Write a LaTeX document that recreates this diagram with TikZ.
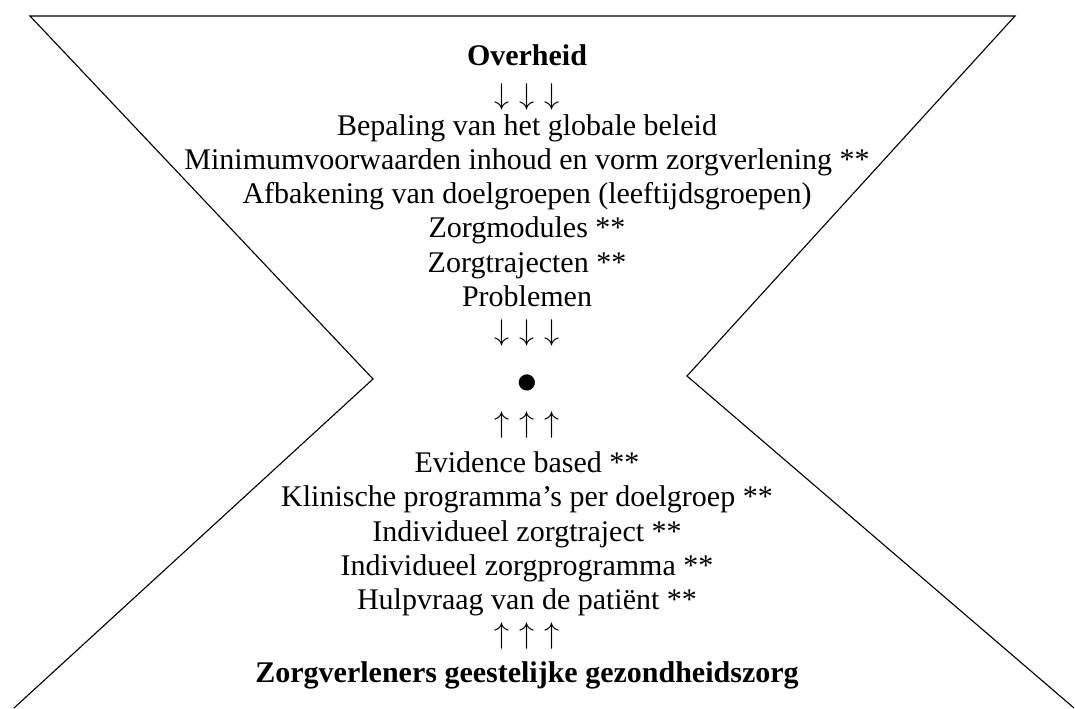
\documentclass[tikz,border=0pt]{standalone}
\usepackage{fontspec}
\setmainfont{Liberation Serif}
\usepackage{tikz}

\newcommand{\driepijl}[1]{\makebox[10pt]{$#1$}\makebox[10pt]{$#1$}\makebox[10pt]{$#1$}}

\begin{document}
\begin{tikzpicture}[x=0.4pt,y=-0.4pt,
  regel/.style={anchor=base,
                inner sep=0pt,
                font=\fontsize{12}{13.8}\selectfont},
  kop/.style={regel,
              font=\fontsize{12}{13.8}\selectfont\bfseries}]
\useasboundingbox (0,0) rectangle (1075,708);
\coordinate (tl) at (30,16);
\coordinate (tr) at (1015,16);
\coordinate (la) at (373,379);
\coordinate (ra) at (687,376);
\coordinate (bl) at (14,708);
\coordinate (br) at (1074,708);
\draw [line width=0.45pt] (bl) -- (la) -- (tl) -- (tr) -- (ra) -- (br);
\node [kop](ovh) at (527,65) {Overheid};
\node [regel](pijl1) at (527,104) {\driepijl{\downarrow}};
\node [regel](bep) at (527,135) {Bepaling van het globale beleid};
\node [regel](minv) at (527,169) {Minimumvoorwaarden inhoud en vorm zorgverlening **};
\node [regel](afb) at (527,203) {Afbakening van doelgroepen (leeftijdsgroepen)};
\node [regel](zmod) at (527,237.5) {Zorgmodules **};
\node [regel](ztraj) at (527,272) {Zorgtrajecten **};
\node [regel](probl) at (527,306.5) {Problemen};
\node [regel](pijl2) at (527,340) {\driepijl{\downarrow}};
\node [regel,
       font=\fontsize{15}{18}\selectfont](punt) at (527,393.5) {●};
\node [regel](pijl3) at (527,432) {\driepijl{\uparrow}};
\node [regel](evid) at (527,472) {Evidence based **};
\node [regel](klin) at (527,506.5) {Klinische programma’s per doelgroep **};
\node [regel](izt) at (527,541) {Individueel zorgtraject **};
\node [regel](izp) at (527,575.5) {Individueel zorgprogramma **};
\node [regel](hulp) at (527,609) {Hulpvraag van de patiënt **};
\node [regel](pijl4) at (527,643) {\driepijl{\uparrow}};
\node [kop](zgv) at (527,682) {Zorgverleners geestelijke gezondheidszorg};
\end{tikzpicture}
\end{document}
